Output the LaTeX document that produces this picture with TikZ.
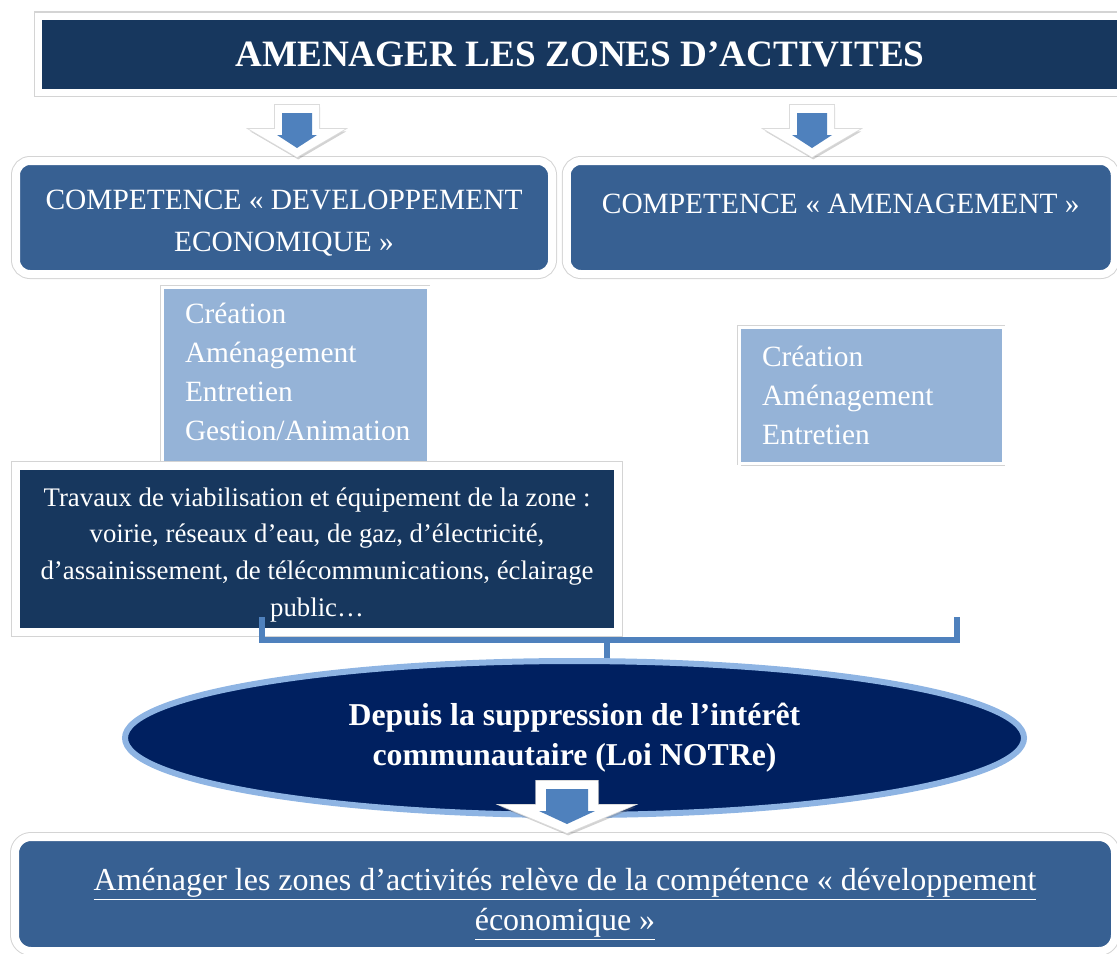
\documentclass[tikz,border=0pt]{standalone}
\usepackage{fontspec}
\setmainfont{Liberation Serif}
\usetikzlibrary{shapes.geometric, shadows}

\definecolor{navy}{RGB}{23,55,94}
\definecolor{midblue}{RGB}{55,96,146}
\definecolor{paleblue}{RGB}{149,179,215}
\definecolor{arrowblue}{RGB}{79,129,189}
\definecolor{deepblue}{RGB}{0,32,96}
\definecolor{rimblue}{RGB}{142,180,227}

\newcommand{\nudge}[2]{\raisebox{#1}[\height][\depth]{#2}}

\tikzset{
    softshadow/.style={drop shadow={shadow xshift=1.2pt, shadow yshift=-1.6pt, opacity=0.35}},
    rim/.style={preaction={draw=black!17, line width=#1}},
    darkbox/.style={softshadow, rim=4.6pt, fill=navy, draw=white, line width=3.5pt, text=white, inner sep=0pt},
    compbox/.style={softshadow, rim=5pt, fill=midblue, draw=white, line width=4pt, rounded corners=7pt, text=white,
        inner sep=0pt, align=center, font=\fontsize{14.7}{21}\selectfont},
    listbox/.style={softshadow, rim=2.4pt, fill=paleblue, draw=white, line width=1.5pt, text=white,
        inner sep=0pt, font=\fontsize{14.7}{19.5}\selectfont},
    downarr/.pic={
        \path[drop shadow={shadow xshift=0.6pt, shadow yshift=-1.2pt, opacity=0.35}, fill=white,
            preaction={draw=black!14, line width=0.8pt}]
            (-22,0) -- (22,0) -- (22,24) -- (48,24) -- (0,52) -- (-48,24) -- (-22,24) -- cycle;
        \fill[arrowblue] (-15,8) -- (15,8) -- (15,30) -- (20,30) -- (0,43) -- (-20,30) -- (-15,30) -- cycle;
    }
}

\begin{document}
\begin{tikzpicture}[x=0.5pt, y=-0.5pt]
    \useasboundingbox (0,0) rectangle (1117,953);

    \node[darkbox, minimum width=541.5pt, minimum height=38.25pt, font=\bfseries\fontsize{18.6}{22}\selectfont]
        (title) at (580,54.25) {AMENAGER LES ZONES D’ACTIVITES};

    \node[compbox, minimum width=268pt, minimum height=56.5pt] (devo) at (284,217.5)
        {\nudge{-2.5pt}{\begin{tabular}{@{}c@{}}COMPETENCE « DEVELOPPEMENT\\ ECONOMIQUE »\end{tabular}}};
    \node[compbox, minimum width=274pt, minimum height=56.5pt] (amen) at (840.75,217.5)
        {\nudge{7pt}{COMPETENCE « AMENAGEMENT »}};

    \node[listbox, minimum width=133pt, minimum height=91.5pt] (crea1) at (295,378.5)
        {\nudge{3.5pt}{\parbox{110pt}{\raggedright Création\\ Aménagement\\ Entretien\\ Gestion/Animation}}};
    \node[listbox, minimum width=132pt, minimum height=68pt] (crea2) at (871,395)
        {\parbox{109pt}{\raggedright Création\\ Aménagement\\ Entretien}};

    \node[darkbox, line width=4pt, rim=5pt, minimum width=301pt, minimum height=83pt,
        font=\fontsize{13.4}{18.4}\selectfont] (trav) at (317,549)
        {\nudge{-2.5pt}{\begin{tabular}{@{}c@{}}Travaux de viabilisation et équipement de la zone :\\
         voirie, réseaux d’eau, de gaz, d’électricité,\\
         d’assainissement, de télécommunications, éclairage\\ public…\end{tabular}}};

    \node[ellipse, fill=deepblue, draw=rimblue, line width=3pt, minimum width=449.5pt, minimum height=77pt,
        inner sep=0pt, text=white, align=center, font=\bfseries\fontsize{15.9}{20}\selectfont]
        (ell) at (574.5,738) {Depuis la suppression de l’intérêt\\ communautaire (Loi NOTRe)};

    \coordinate (bl) at (262,617);
    \coordinate (br) at (957,617);
    \coordinate (mid) at (607,640);
    \draw[black!25, line width=3pt, xshift=0.8pt, yshift=-1.2pt] (bl) |- (mid) -| (br);
    \draw[arrowblue, line width=3pt] (bl) |- (mid) -| (br);
    \draw[arrowblue, line width=3pt] (mid) -- (mid |- ell.north);

    \node[compbox, rounded corners=8pt, minimum width=550pt, minimum height=57pt,
        font=\fontsize{16}{20}\selectfont] (bot) at (565,894)
        {\nudge{-4pt}{\begin{tabular}{@{}c@{}}\underline{Aménager les zones d’activités relève de la compétence « développement}\\
         \underline{économique »}\end{tabular}}};

    \pic at (297,105) {downarr};
    \pic at (812,105) {downarr};
    \pic[xscale=1.4] at (567,781) {downarr};
\end{tikzpicture}
\end{document}
